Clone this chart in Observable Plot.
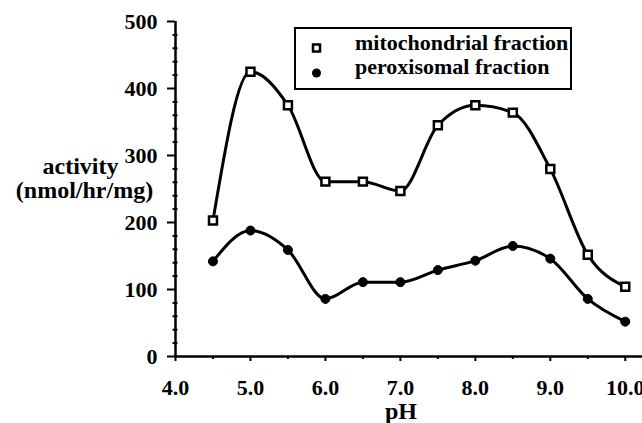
<!DOCTYPE html>
<html>
<head>
<meta charset="utf-8">
<script src="https://cdn.jsdelivr.net/npm/d3@7"></script>
<script src="https://cdn.jsdelivr.net/npm/@observablehq/plot@0.6"></script>
<style>
  html, body { margin: 0; padding: 0; background: #fff; }
  #wrap { position: relative; width: 642px; height: 423px; }
  #wrap svg text, #wrap svg { font-family: 'Liberation Serif', 'DejaVu Serif', serif !important; font-weight: bold; }
  #legend { position: absolute; left: 294px; top: 27px; width: 274px; height: 59px; border: 2px solid #000; overflow: hidden; background: #fff; }
  #legend svg { display: block; }
</style>
</head>
<body>
<div id="wrap"></div>
<script>
const pH = [4.5, 5.0, 5.5, 6.0, 6.5, 7.0, 7.5, 8.0, 8.5, 9.0, 9.5, 10.0];
const mitochondrial = [203, 425, 375, 261, 261, 247, 345, 375, 364, 280, 152, 104];
const peroxisomal = [142, 188, 159, 86, 111, 111, 129, 143, 165, 146, 86, 52];
const seriesNames = ["mitochondrial fraction", "peroxisomal fraction"];
const xTicks = [4, 5, 6, 7, 8, 9, 10];
const xMinorTicks = [4.5, 5.5, 6.5, 7.5, 8.5, 9.5];
const yTicks = [0, 100, 200, 300, 400, 500];
const yMinorTicks = [20, 40, 60, 80, 120, 140, 160, 180, 220, 240, 260, 280, 320, 340, 360, 380, 420, 440, 460, 480];
const yLabelLines = ["activity", "(nmol/hr/mg)"];
const xLabel = "pH";

const FONT = "'Liberation Serif', 'DejaVu Serif', serif";
const mito = pH.map((x, i) => ({x, y: mitochondrial[i]}));
const perox = pH.map((x, i) => ({x, y: peroxisomal[i]}));

const chart = Plot.plot({
  width: 642,
  height: 423,
  marginLeft: 175,
  marginRight: 0,
  marginTop: 21,
  marginBottom: 67,
  style: {fontFamily: FONT, fontWeight: "bold", fontSize: "22px", color: "#000", background: "#fff"},
  x: {domain: [4, 10.23]},
  y: {domain: [0, 500]},
  marks: [
    Plot.axisY({ticks: yTicks, tickSize: 8, tickPadding: 10, fontSize: 22, strokeWidth: 2, label: null}),
    Plot.axisY({ticks: yMinorTicks, tickSize: 5, dx: 2.5, text: null, strokeWidth: 2, label: null}),
    Plot.axisX({ticks: xTicks, tickSize: 5, tickPadding: 18, fontSize: 22, strokeWidth: 2, tickFormat: d => d.toFixed(1), label: null}),
    Plot.axisX({ticks: xMinorTicks, tickSize: 3, text: null, strokeWidth: 2, label: null}),
    Plot.ruleY([0], {stroke: "#000", strokeWidth: 2.5}),
    Plot.ruleX([4], {stroke: "#000", strokeWidth: 2.5}),
    Plot.line(mito, {x: "x", y: "y", curve: "monotone-x", stroke: "#000", strokeWidth: 3}),
    Plot.line(perox, {x: "x", y: "y", curve: "monotone-x", stroke: "#000", strokeWidth: 3}),
    Plot.dot(mito, {x: "x", y: "y", symbol: "square", r: 4.5, fill: "#fff", stroke: "#000", strokeWidth: 2.5}),
    Plot.dot(perox, {x: "x", y: "y", symbol: "circle", r: 4.5, fill: "#000", stroke: "#000", strokeWidth: 1}),
    Plot.text([yLabelLines[0]], {frameAnchor: "left", textAnchor: "middle", dx: -95, dy: -23, lineAnchor: "middle", fontSize: 24, fill: "#000"}),
    Plot.text([yLabelLines[1]], {frameAnchor: "left", textAnchor: "middle", dx: -91, dy: 1, lineAnchor: "middle", fontSize: 24, fill: "#000"}),
    Plot.text([xLabel], {frameAnchor: "bottom", textAnchor: "middle", dx: -8, dy: 55, lineAnchor: "middle", fontSize: 24, fill: "#000"})
  ]
});
chart.style.overflow = "visible";
const wrap = document.getElementById("wrap");
wrap.appendChild(chart);

// legend
const legend = document.createElement("div");
legend.id = "legend";
const ns = "http://www.w3.org/2000/svg";
const svg = document.createElementNS(ns, "svg");
svg.setAttribute("width", 274);
svg.setAttribute("height", 59);
const sq = document.createElementNS(ns, "rect");
sq.setAttribute("x", 17); sq.setAttribute("y", 15.5); sq.setAttribute("width", 7); sq.setAttribute("height", 7);
sq.setAttribute("fill", "#fff"); sq.setAttribute("stroke", "#000"); sq.setAttribute("stroke-width", 2.5);
svg.appendChild(sq);
const ci = document.createElementNS(ns, "circle");
ci.setAttribute("cx", 20.5); ci.setAttribute("cy", 44); ci.setAttribute("r", 4.5); ci.setAttribute("fill", "#000");
svg.appendChild(ci);
seriesNames.forEach((name, i) => {
  const t = document.createElementNS(ns, "text");
  t.setAttribute("x", 59);
  t.setAttribute("y", i === 0 ? 21 : 45);
  t.setAttribute("font-size", 22);
  t.textContent = name;
  svg.appendChild(t);
});
legend.appendChild(svg);
wrap.appendChild(legend);
</script>
</body>
</html>
